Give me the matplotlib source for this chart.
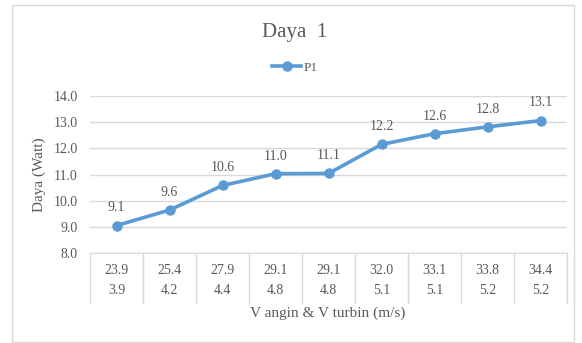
import matplotlib.pyplot as plt
from matplotlib.patches import Rectangle
from matplotlib.transforms import blended_transform_factory
import numpy as np

plt.rcParams['font.family'] = ['Liberation Serif', 'DejaVu Serif']

v_angin = ['23.9', '25.4', '27.9', '29.1', '29.1', '32.0', '33.1', '33.8', '34.4']
v_turbin = ['3.9', '4.2', '4.4', '4.8', '4.8', '5.1', '5.1', '5.2', '5.2']
p1 = [9.05, 9.64, 10.58, 11.03, 11.04, 12.15, 12.56, 12.82, 13.06]
p1_labels = ['9.1', '9.6', '10.6', '11.0', '11.1', '12.2', '12.6', '12.8', '13.1']

W, H = 582, 343
txt = '#595959'
grid = '#D9D9D9'
blue = '#5B9BD5'

fig = plt.figure(figsize=(W / 100, H / 100), dpi=100)
fig.patches.append(Rectangle((12 / W, 1 - 342 / H), 562 / W, 337 / H,
                             transform=fig.transFigure, fill=False,
                             edgecolor=grid, linewidth=1))

ax = fig.add_axes([90 / W, 1 - 253 / H, 477 / W, 157 / H])
x = np.arange(len(p1)) + 0.5
ax.plot(x, p1, color=blue, linewidth=2.6, marker='o', markersize=6.5, label='P1',
        zorder=3)
for xi, yi, lab in zip(x, p1, p1_labels):
    ax.annotate(lab, (xi, yi), xytext=(0, 8), textcoords='offset points',
                ha='center', va='bottom', fontsize=10, color=txt)

ax.set_xlim(0, len(p1))
ax.set_ylim(8, 14)
ax.set_yticks(np.arange(8, 14.1, 1))
ax.set_yticklabels(['%.1f' % v for v in np.arange(8, 14.1, 1)])
ax.yaxis.grid(True, color=grid, linewidth=1)
ax.set_axisbelow(True)
for s in ['top', 'right', 'left']:
    ax.spines[s].set_visible(False)
ax.spines['bottom'].set_color(grid)
ax.tick_params(axis='y', length=0, pad=9, labelsize=10, labelcolor=txt)
ax.set_xticks([])
ax.set_ylabel('Daya (Watt)', fontsize=11, color=txt, labelpad=5)

# two-level category table under the axis
tr = blended_transform_factory(ax.transData, fig.transFigure)
for b in range(len(p1) + 1):
    ax.plot([b, b], [1 - 253 / H, 1 - 303 / H], color=grid, linewidth=1,
            transform=tr, clip_on=False)
for xi, a, t in zip(x, v_angin, v_turbin):
    ax.text(xi, 1 - 271 / H, a, transform=tr, ha='center', va='center',
            fontsize=10, color=txt)
    ax.text(xi, 1 - 290 / H, t, transform=tr, ha='center', va='center',
            fontsize=10, color=txt)
fig.text(328 / W, 1 - 313 / H, 'V angin & V turbin (m/s)', ha='center',
         va='center', fontsize=11, color=txt)

fig.text(295 / W, 1 - 32 / H, 'Daya  1', ha='center', va='center',
         fontsize=15, color=txt)
fig.legend(loc='center', bbox_to_anchor=(295 / W, 1 - 68 / H), frameon=False,
           fontsize=9.5, labelcolor=txt, handlelength=2.2, handletextpad=0.2)

fig.savefig('out.png', dpi=100)
